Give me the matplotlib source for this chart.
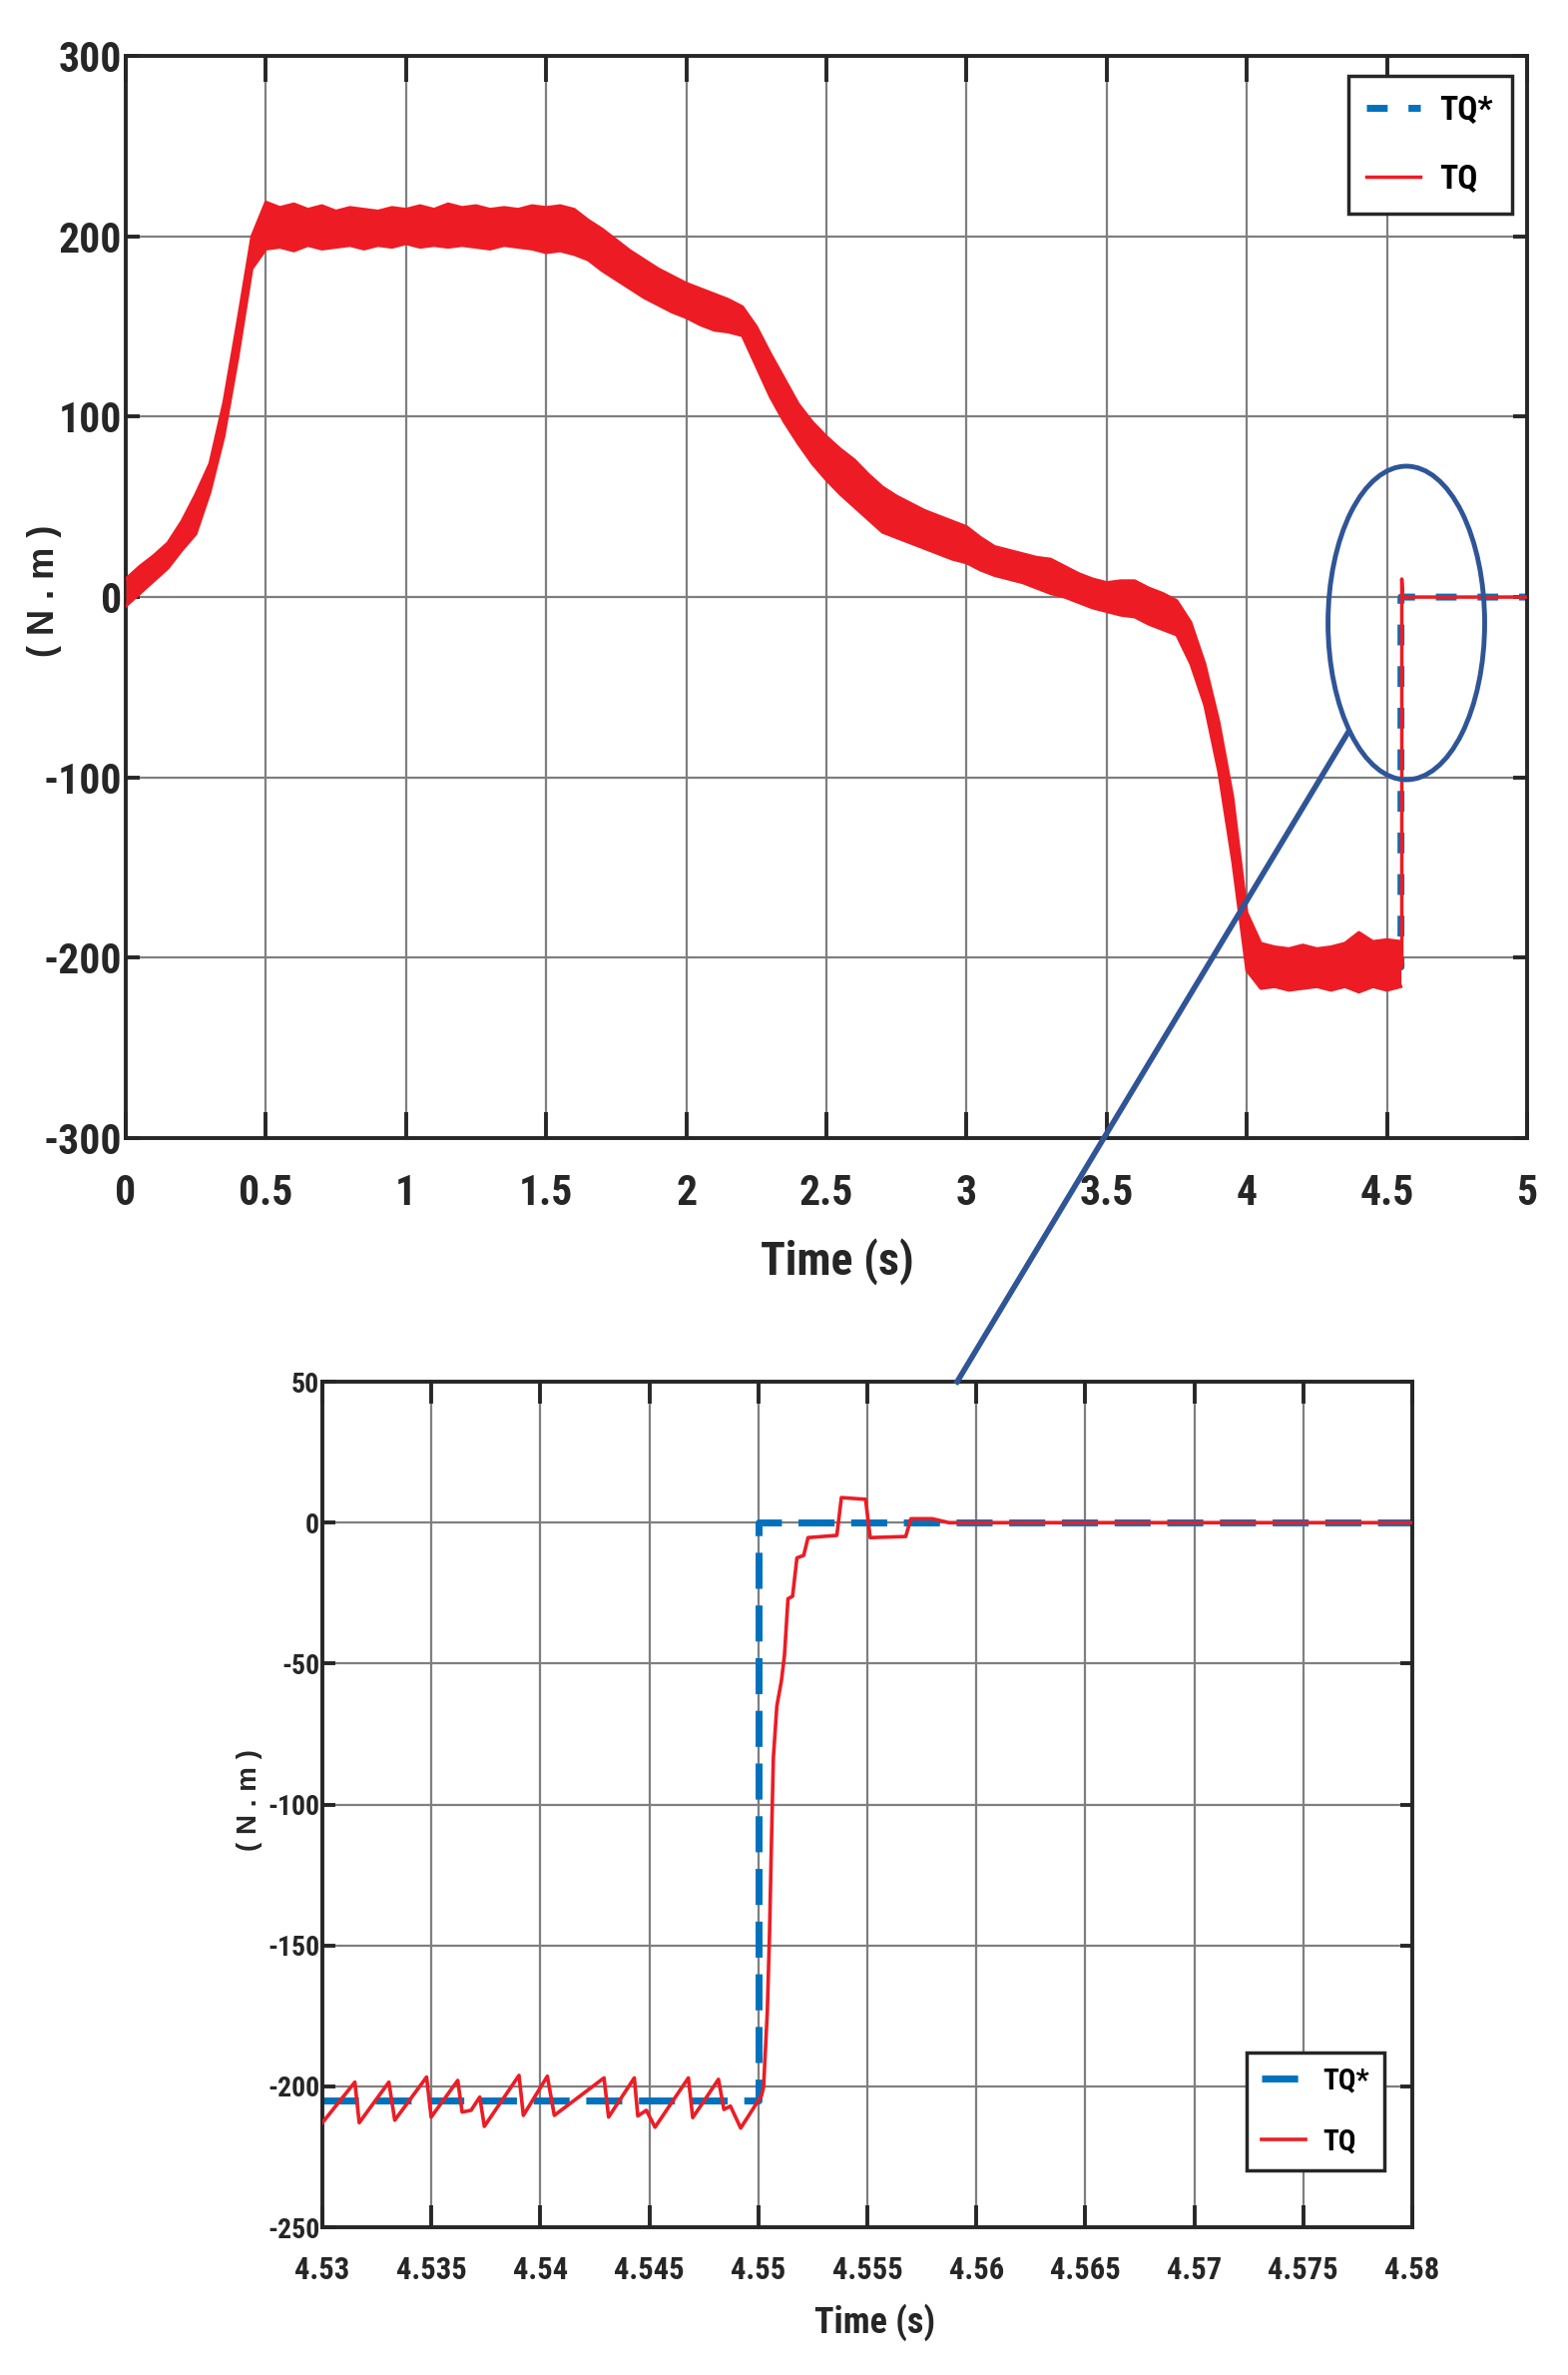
import matplotlib.pyplot as plt
from matplotlib.patches import Ellipse
from matplotlib.lines import Line2D

# ---- main plot: TQ band (upper / lower envelope, N.m) ----
env_time = [0.00, 0.05, 0.10, 0.15, 0.20, 0.25, 0.30, 0.35, 0.40, 0.45,
            0.50, 0.55, 0.60, 0.65, 0.70, 0.75, 0.80, 0.85, 0.90, 0.95,
            1.00, 1.05, 1.10, 1.15, 1.20, 1.25, 1.30, 1.35, 1.40, 1.45,
            1.50, 1.55, 1.60, 1.65, 1.70, 1.75, 1.80, 1.85, 1.90, 1.95,
            2.00, 2.05, 2.10, 2.15, 2.20, 2.25, 2.30, 2.35, 2.40, 2.45,
            2.50, 2.55, 2.60, 2.65, 2.70, 2.75, 2.80, 2.85, 2.90, 2.95,
            3.00, 3.05, 3.10, 3.15, 3.20, 3.25, 3.30, 3.35, 3.40, 3.45,
            3.50, 3.55, 3.60, 3.65, 3.70, 3.75, 3.80, 3.85, 3.90, 3.95,
            4.00, 4.05, 4.10, 4.15, 4.20, 4.25, 4.30, 4.35, 4.40, 4.45,
            4.50, 4.55]
tq_upper = [10, 17, 23, 30, 42, 57, 74, 108, 153, 200,
            219, 216, 218, 215, 217, 214, 216, 215, 214, 216,
            215, 217, 215, 218, 216, 217, 215, 216, 215, 217,
            216, 217, 215, 209, 204, 198, 192, 187, 182, 178,
            174, 171, 168, 165, 161, 150, 135, 121, 107, 97,
            89, 82, 76, 68, 61, 56, 52, 48, 45, 42,
            39, 33, 28, 26, 24, 22, 21, 17, 13, 10,
            8, 9, 9, 5, 2, -2, -14, -37, -69, -111,
            -175, -192, -194, -195, -193, -195, -194, -192, -186, -191,
            -190, -191]
tq_lower = [-5, 2, 9, 16, 26, 35, 58, 89, 133, 182,
            193, 194, 192, 195, 193, 194, 195, 193, 195, 194,
            196, 194, 195, 194, 195, 194, 193, 195, 194, 193,
            191, 192, 190, 187, 181, 176, 171, 166, 162, 158,
            155, 151, 148, 147, 145, 128, 111, 97, 85, 74,
            65, 57, 50, 43, 36, 33, 30, 27, 24, 21,
            19, 15, 12, 10, 8, 5, 2, 0, -3, -6,
            -8, -10, -11, -15, -18, -21, -37, -60, -97, -147,
            -207, -217, -216, -218, -217, -216, -218, -216, -219, -216,
            -218, -216]

# step of the torque command to zero at 4.55 s
step_time = [4.55, 4.553, 4.553, 4.557, 5.0]
step_tq = [-205, -205, 10, 0, 0]
ref_step_time = [4.55, 4.55, 5.0]
ref_step_tq = [-205, 0, 0]

# ---- zoomed window 4.53 .. 4.58 s ----
zoom_ref_time = [4.53, 4.55, 4.55, 4.58]
zoom_ref_tq = [-205, -205, 0, 0]
zoom_tq_time = [4.5300, 4.53149, 4.53169, 4.53305, 4.53332, 4.53478, 4.53499,
                4.53621, 4.53641, 4.53682, 4.53722, 4.53743, 4.53902, 4.53922,
                4.54032, 4.54064, 4.54292, 4.54313, 4.54431, 4.54447, 4.54486,
                4.54526, 4.54679, 4.54699, 4.54817, 4.54842, 4.54872, 4.54919,
                4.55015, 4.55024, 4.55041, 4.55051, 4.55061, 4.55069, 4.55085,
                4.55106, 4.55120, 4.55136, 4.55157, 4.55177, 4.55208, 4.55228,
                4.55360, 4.55381, 4.55492, 4.55513, 4.55676, 4.55700, 4.55798,
                4.55875, 4.58]
zoom_tq = [-212.9, -198.5, -212.9, -198.5, -212.0, -196.7, -210.9,
           -197.9, -209.1, -208.5, -203.8, -214.2, -196.1, -210.3,
           -196.4, -210.3, -197.0, -210.9, -197.0, -210.5, -208.5,
           -214.5, -197.0, -211.1, -197.5, -208.2, -207.0, -214.8,
           -203.2, -200.2, -173.7, -146.6, -110.3, -83.2, -65.0,
           -56.0, -46.9, -27.0, -26.1, -12.5, -11.6, -5.3,
           -4.5, 8.9, 8.3, -5.3, -4.9, 1.4, 1.4,
           0.0, 0.0]

main_xticks = [0, 0.5, 1, 1.5, 2, 2.5, 3, 3.5, 4, 4.5, 5]
main_xticklabels = ['0', '0.5', '1', '1.5', '2', '2.5', '3', '3.5', '4', '4.5', '5']
main_yticks = [-300, -200, -100, 0, 100, 200, 300]
zoom_xticks = [4.53, 4.535, 4.54, 4.545, 4.55, 4.555, 4.56, 4.565, 4.57, 4.575, 4.58]
zoom_xticklabels = ['4.53', '4.535', '4.54', '4.545', '4.55', '4.555',
                    '4.56', '4.565', '4.57', '4.575', '4.58']
zoom_yticks = [-250, -200, -150, -100, -50, 0, 50]

RED = '#ED1C24'
BLUE = '#0072BD'
CIRCLE = '#2F5597'
INK = '#262626'
narrow = ['Roboto Condensed', 'DejaVu Sans']
wide = ['Liberation Sans', 'DejaVu Sans']
NARROW = dict(fontfamily=narrow, fontstretch='condensed', fontweight='bold')


def style_axes(ax, xlen, ylen, xpad, ypad):
    ax.grid(True, color='#7f7f7f', lw=1.6)
    ax.set_axisbelow(True)
    for sp in ax.spines.values():
        sp.set_linewidth(2.8)
        sp.set_color(INK)
    ax.tick_params(direction='in', top=True, right=True, width=2.8, color=INK,
                   labelcolor=INK)
    ax.tick_params(axis='x', length=xlen, pad=xpad)
    ax.tick_params(axis='y', length=ylen, pad=ypad)


fig = plt.figure(figsize=(15.71, 23.79), dpi=100)

# ---------------- main plot ----------------
ax = fig.add_axes([0.0802, 0.5208, 0.8937, 0.4556])
mid = [(u + l) / 2 for u, l in zip(tq_upper, tq_lower)]
ref_line, = ax.plot(env_time + ref_step_time, mid + ref_step_tq, color=BLUE,
                    lw=5, ls=(0, (3, 3)), zorder=2)
ax.fill_between(env_time, tq_lower, tq_upper, color=RED, lw=0, zorder=3)
ax.plot(env_time, tq_upper, color=RED, lw=2.2, zorder=3)
ax.plot(env_time, tq_lower, color=RED, lw=2.2, zorder=3)
tq_line, = ax.plot(step_time, step_tq, color=RED, lw=2.5, zorder=4)

ax.set_xlim(0, 5)
ax.set_ylim(-300, 300)
ax.set_xticks(main_xticks, main_xticklabels, fontsize=30, **NARROW)
ax.set_yticks(main_yticks, [str(v) for v in main_yticks], fontsize=30, **NARROW)
style_axes(ax, 19, 10, 25, 3)

leg = ax.legend([ref_line, tq_line], ['TQ*', 'TQ'], loc='upper right',
                bbox_to_anchor=(0.989, 0.9815), borderaxespad=0,
                prop=dict(family=narrow, stretch='condensed', weight='bold', size=24),
                fancybox=False, framealpha=1, edgecolor=INK,
                handlelength=1.6, handletextpad=0.6, borderpad=0.55,
                labelspacing=1.1)
leg.get_frame().set_linewidth(2.5)

fig.text(0.534, 0.4687, 'Time (s)', ha='center', va='center',
         fontsize=33, color=INK, **NARROW)
fig.text(0.0286, 0.751, '( N . m )', ha='center', va='center', rotation=90,
         fontfamily=wide, fontweight='bold', fontsize=26, color=INK)

# ---------------- zoomed plot ----------------
ax2 = fig.add_axes([0.2056, 0.0622, 0.6951, 0.356])
ref2, = ax2.plot(zoom_ref_time, zoom_ref_tq, color=BLUE, lw=5,
                 ls=(0, (5.2, 2.4)), zorder=2)
tq2, = ax2.plot(zoom_tq_time, zoom_tq, color=RED, lw=2.6, zorder=3)
ax2.set_xlim(4.53, 4.58)
ax2.set_ylim(-250, 50)
ax2.set_xticks(zoom_xticks, zoom_xticklabels, fontsize=22, **NARROW)
ax2.set_yticks(zoom_yticks, [str(v) for v in zoom_yticks], fontsize=20, **NARROW)
style_axes(ax2, 16, 9, 20, 2)

leg2 = ax2.legend([ref2, tq2], ['TQ*', 'TQ'], loc='lower right',
                  bbox_to_anchor=(0.974, 0.067), borderaxespad=0,
                  prop=dict(family=narrow, stretch='condensed', weight='bold', size=21),
                  fancybox=False, framealpha=1, edgecolor=INK,
                  handlelength=1.5, handletextpad=0.6, borderpad=0.5,
                  labelspacing=1.15)
leg2.get_frame().set_linewidth(2.5)

fig.text(0.5582, 0.0223, 'Time (s)', ha='center', va='center',
         fontsize=26, color=INK, **NARROW)
fig.text(0.159, 0.2421, '( N . m )', ha='center', va='center', rotation=90,
         fontfamily=wide, fontweight='bold', fontsize=20, color=INK)

# zoom marker: ellipse round the step and the line to the zoomed plot
fig.add_artist(Ellipse((0.8969, 0.7377), 0.0999, 0.132, transform=fig.transFigure,
                       fill=False, ec=CIRCLE, lw=3.5, zorder=10))
fig.add_artist(Line2D([0.860, 0.6104], [0.6919, 0.4182], transform=fig.transFigure,
                      color=CIRCLE, lw=4, zorder=10))

fig.savefig('out.png', dpi=100)
